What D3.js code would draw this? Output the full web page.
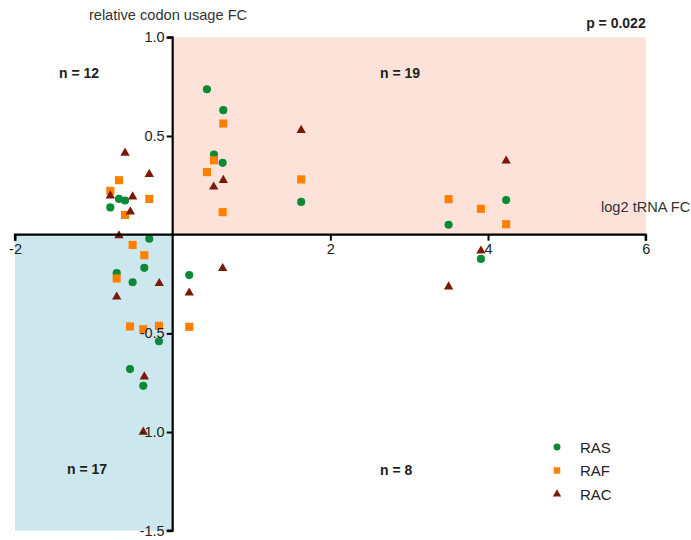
<!DOCTYPE html>
<html>
<head>
<meta charset="utf-8">
<script src="https://cdn.jsdelivr.net/npm/d3@7"></script>
<style>
  html, body { margin: 0; padding: 0; background: #fff; }
  svg { display: block; font-family: "Liberation Sans", Arial, sans-serif; }
</style>
</head>
<body>
<svg id="chart" width="691" height="540"></svg>
<script>
// log2 tRNA fold change (x) vs relative codon usage fold change (y)
const seriesNames = ["RAS", "RAF", "RAC"];

const rasX = [0.435, 0.642, 0.524, 0.634, 1.63, 4.23, 3.50, 3.91, 0.21,
              -0.681, -0.604, -0.791, -0.297, -0.36, -0.71, -0.508, -0.174, -0.541, -0.373];
const rasY = [0.737, 0.631, 0.406, 0.364, 0.166, 0.175, 0.050, -0.123, -0.205,
              0.181, 0.173, 0.138, -0.021, -0.168, -0.195, -0.241, -0.540, -0.681, -0.766];

const rafX = [0.642, 0.524, 0.435, 1.63, 0.634, 3.50, 3.91, 4.23, 0.21,
              -0.681, -0.791, -0.297, -0.604, -0.508, -0.36, -0.71, -0.541, -0.373, -0.174];
const rafY = [0.563, 0.377, 0.317, 0.280, 0.114, 0.180, 0.131, 0.053, -0.467,
              0.276, 0.222, 0.181, 0.100, -0.052, -0.104, -0.222, -0.465, -0.479, -0.462];

const racX = [1.63, 0.642, 0.52, 4.23, 0.634, 0.21, 3.91, 3.50,
              -0.604, -0.297, -0.791, -0.508, -0.537, -0.681, -0.17, -0.71, -0.36, -0.373];
const racY = [0.529, 0.276, 0.242, 0.374, -0.171, -0.295, -0.082, -0.264,
              0.414, 0.306, 0.197, 0.192, 0.116, -0.005, -0.247, -0.315, -0.720, -1.00];

const xTicks = [-2, 2, 4, 6];
const yTicks = [1.0, 0.5, -0.5, -1.0, -1.5];

const quadrantCounts = ["n = 12", "n = 19", "n = 17", "n = 8"];
const pLabel = "p = 0.022";
const xTitle = "log2 tRNA FC";
const yTitle = "relative codon usage FC";

const colors = { RAS: "#0b8a36", RAF: "#ff8000", RAC: "#7a1a05" };
const shapes = { RAS: d3.symbolCircle, RAF: d3.symbolSquare, RAC: d3.symbolTriangle };
const sizes  = { RAS: 52, RAF: 66, RAC: 38 };
const legendSizes = { RAS: 38, RAF: 42, RAC: 30 };

const series = [
  { name: "RAS", xs: rasX, ys: rasY },
  { name: "RAF", xs: rafX, ys: rafY },
  { name: "RAC", xs: racX, ys: racY }
];

const svg = d3.select("#chart");

const x = d3.scaleLinear().domain([-2, 6]).range([15, 645.7]);
const y = d3.scaleLinear().domain([-1.5, 1]).range([530.7, 37.3]);

// shaded quadrants
svg.append("rect")
  .attr("x", x(0)).attr("y", y(1))
  .attr("width", x(6) - x(0)).attr("height", y(0) - y(1))
  .attr("fill", "#fde2da");
svg.append("rect")
  .attr("x", x(-2)).attr("y", y(0))
  .attr("width", x(0) - x(-2)).attr("height", y(-1.5) - y(0))
  .attr("fill", "#cce7ee");

// points
series.forEach(s => {
  const pts = s.xs.map((v, i) => [v, s.ys[i]]);
  svg.append("g").selectAll("path")
    .data(pts)
    .join("path")
    .attr("transform", d => `translate(${x(d[0])},${y(d[1])})`)
    .attr("d", d3.symbol().type(shapes[s.name]).size(sizes[s.name]))
    .attr("fill", colors[s.name]);
});

// axes crossing at the origin
const xAxis = d3.axisBottom(x).tickValues(xTicks).tickSize(6).tickPadding(3)
  .tickFormat(d3.format("d"));
const gx = svg.append("g")
  .attr("transform", `translate(0,${y(0)})`)
  .call(xAxis);
const yAxis = d3.axisLeft(y).tickValues(yTicks).tickSize(6).tickPadding(2)
  .tickFormat(d3.format(".1f"));
const gy = svg.append("g")
  .attr("transform", `translate(${x(0)},0)`)
  .call(yAxis);

[gx, gy].forEach(g => {
  g.select(".domain").attr("stroke", "#000").attr("stroke-width", 2.2);
  g.selectAll(".tick line").attr("stroke", "#000").attr("stroke-width", 2);
  g.selectAll(".tick text").attr("fill", "#222").style("font-size", "14.5px")
    .style("font-family", "'Liberation Sans', Arial, sans-serif")
    .text(function() { return this.textContent.replace("\u2212", "-"); });
});
gx.select(".domain").attr("d", `M${x(-2)},6V0H${x(6)}V6`);
gy.select(".domain").attr("d", `M-6,${y(1)}H0V${y(-1.5)}H-6`);

// titles
svg.append("text").attr("x", 168).attr("y", 20).attr("text-anchor", "middle")
  .style("font-size", "14.6px").attr("fill", "#333").text(yTitle);
svg.append("text").attr("x", 601).attr("y", 212).attr("text-anchor", "start")
  .style("font-size", "14.6px").attr("fill", "#333").text(xTitle);
svg.append("text").attr("x", 645.7).attr("y", 28).attr("text-anchor", "end")
  .style("font-size", "14px").style("font-weight", "bold").attr("fill", "#222").text(pLabel);

// quadrant counts
const countPos = [[59, 78], [380, 78], [67, 474], [380, 475]];
quadrantCounts.forEach((t, i) => {
  svg.append("text").attr("x", countPos[i][0]).attr("y", countPos[i][1])
    .style("font-size", "14px").style("font-weight", "bold").attr("fill", "#222").text(t);
});

// legend
const legend = svg.append("g").attr("transform", "translate(557,447)");
seriesNames.forEach((name, i) => {
  const row = legend.append("g").attr("transform", `translate(0,${i * 23.5})`);
  row.append("path")
    .attr("d", d3.symbol().type(shapes[name]).size(legendSizes[name]))
    .attr("fill", colors[name]);
  row.append("text").attr("x", 23).attr("y", 5.5)
    .style("font-size", "15px").attr("fill", "#222").text(name);
});
</script>
</body>
</html>
